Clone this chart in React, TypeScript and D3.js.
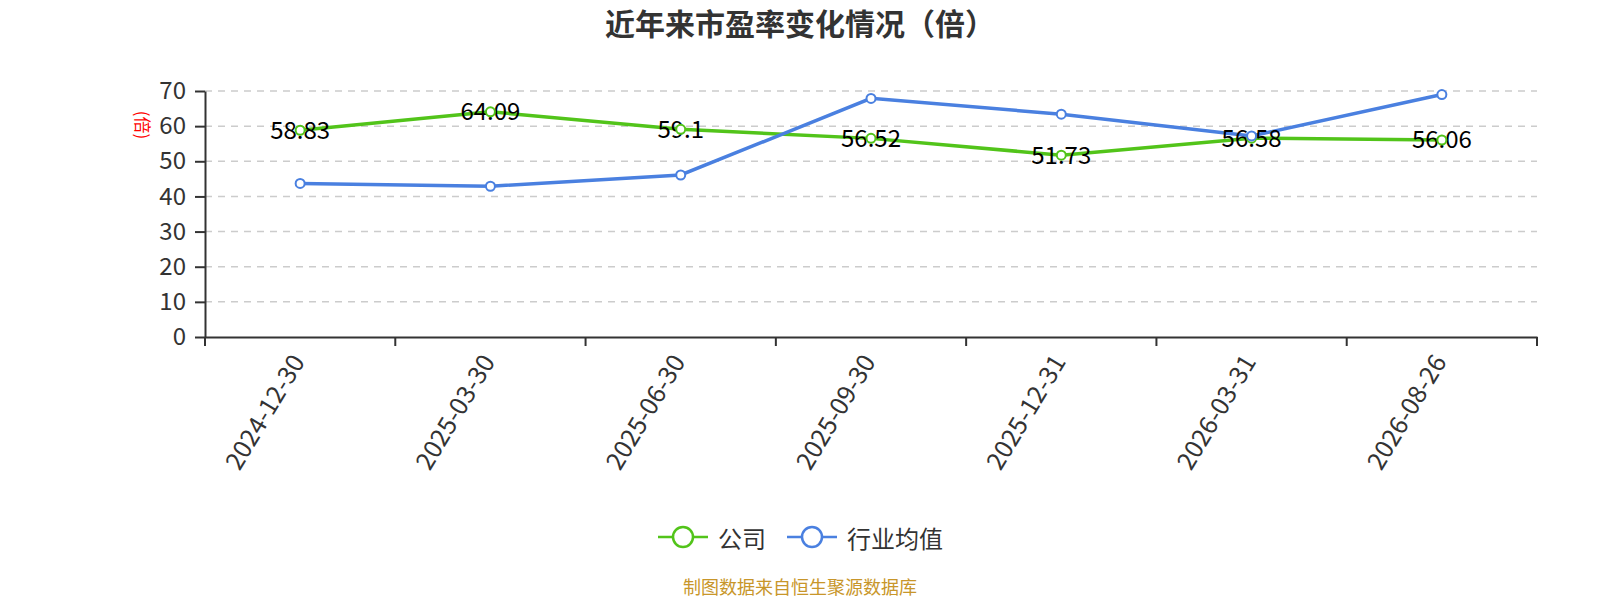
import { useEffect, useRef } from "react";
import * as d3 from "d3";

const dates = ["2024-12-30", "2025-03-30", "2025-06-30", "2025-09-30", "2025-12-31", "2026-03-31", "2026-08-26"];
const companyPE = [58.83, 64.09, 59.1, 56.52, 51.73, 56.58, 56.06];
const industryPE = [43.7, 42.9, 46.1, 67.9, 63.4, 57.2, 69.0];
const yTicks = [0, 10, 20, 30, 40, 50, 60, 70];

const GREEN = "#52c41a";
const BLUE = "#4a80e0";
const FONT = "'Noto Sans CJK SC', 'Noto Sans', sans-serif";

export default function App() {
  const svgRef = useRef<SVGSVGElement | null>(null);

  useEffect(() => {
    if (!svgRef.current) return;
    const svg = d3.select(svgRef.current);
    svg.selectAll("*").remove();

    const width = 1600;
    const height = 600;
    const left = 205, right = 1537, top = 91, bottom = 337;

    const x = d3.scaleBand<string>().domain(dates).range([left, right]);
    const y = d3.scaleLinear().domain([0, 70]).range([bottom, top]);
    const cx = (i: number) => (x(dates[i]) as number) + x.bandwidth() / 2;

    svg.attr("viewBox", `0 0 ${width} ${height}`).style("font-family", FONT);

    // title
    svg.append("text")
      .attr("x", 800).attr("y", 35)
      .attr("text-anchor", "middle")
      .attr("font-size", 30).attr("font-weight", "bold")
      .attr("fill", "#333")
      .text("近年来市盈率变化情况（倍）");

    // grid
    svg.append("g")
      .selectAll("line")
      .data(yTicks.filter((d) => d > 0))
      .join("line")
      .attr("x1", left).attr("x2", right)
      .attr("y1", (d) => y(d)).attr("y2", (d) => y(d))
      .attr("stroke", "#ccc").attr("stroke-width", 1.5)
      .attr("stroke-dasharray", "7,6");

    // y axis
    const gy = svg.append("g").attr("transform", `translate(${left},0)`)
      .call(d3.axisLeft(y).tickValues(yTicks).tickSize(10).tickPadding(9).tickSizeOuter(0));
    gy.select(".domain").attr("stroke", "#333").attr("stroke-width", 2);
    gy.selectAll(".tick line").attr("stroke", "#333").attr("stroke-width", 2);
    gy.selectAll("text").attr("fill", "#333").attr("font-size", 24).attr("font-family", FONT);

    // y axis name
    svg.append("text")
      .attr("transform", `translate(143,125) rotate(90)`)
      .attr("text-anchor", "middle").attr("dominant-baseline", "central")
      .attr("font-size", 17).attr("fill", "red")
      .text("(倍)");

    // x axis
    const gx = svg.append("g").attr("transform", `translate(0,${bottom})`)
      .call(d3.axisBottom(x).tickSize(0).tickPadding(0));
    gx.select(".domain").attr("stroke", "#333").attr("stroke-width", 2);
    gx.selectAll(".tick text")
      .attr("fill", "#333").attr("font-size", 25).attr("font-family", FONT)
      .attr("text-anchor", "end")
      .attr("dy", null).attr("y", 0)
      .attr("transform", "translate(-4,19) rotate(-59)")
      .attr("dominant-baseline", "central");
    const boundaries = dates.map((d) => x(d) as number).concat([right]);
    svg.append("g")
      .selectAll("line")
      .data(boundaries)
      .join("line")
      .attr("x1", (d) => d).attr("x2", (d) => d)
      .attr("y1", bottom).attr("y2", bottom + 9)
      .attr("stroke", "#333").attr("stroke-width", 2);

    const line = d3.line<number>()
      .x((_, i) => cx(i))
      .y((d) => y(d));

    const series = [
      { values: companyPE, color: GREEN },
      { values: industryPE, color: BLUE },
    ];

    series.forEach((s) => {
      svg.append("path")
        .datum(s.values)
        .attr("d", line)
        .attr("fill", "none")
        .attr("stroke", s.color)
        .attr("stroke-width", 3.5);
    });

    // labels for company
    svg.append("g")
      .selectAll("text")
      .data(companyPE)
      .join("text")
      .attr("x", (_, i) => cx(i))
      .attr("y", (d) => y(d) - 2)
      .attr("text-anchor", "middle")
      .attr("dominant-baseline", "central")
      .attr("font-size", 24)
      .attr("fill", "#000")
      .text((d) => String(d));

    series.forEach((s) => {
      svg.append("g")
        .selectAll("circle")
        .data(s.values)
        .join("circle")
        .attr("cx", (_, i) => cx(i))
        .attr("cy", (d) => y(d))
        .attr("r", 4.5)
        .attr("fill", "#fff")
        .attr("stroke", s.color)
        .attr("stroke-width", 2);
    });

    // legend
    const legend = [
      { name: "公司", color: GREEN, x: 658 },
      { name: "行业均值", color: BLUE, x: 787 },
    ];
    const ly = 537;
    legend.forEach((l) => {
      const g = svg.append("g");
      g.append("line")
        .attr("x1", l.x).attr("x2", l.x + 50)
        .attr("y1", ly).attr("y2", ly)
        .attr("stroke", l.color).attr("stroke-width", 2.5);
      g.append("circle")
        .attr("cx", l.x + 25).attr("cy", ly).attr("r", 10)
        .attr("fill", "#fff").attr("stroke", l.color).attr("stroke-width", 2.5);
      g.append("text")
        .attr("x", l.x + 60).attr("y", ly)
        .attr("dominant-baseline", "central")
        .attr("font-size", 24).attr("fill", "#333")
        .text(l.name);
    });

    // source
    svg.append("text")
      .attr("x", 800).attr("y", 586)
      .attr("text-anchor", "middle").attr("dominant-baseline", "central")
      .attr("font-size", 18).attr("fill", "#c8962a")
      .text("制图数据来自恒生聚源数据库");
  }, []);

  return (
    <>
      <style>{`body{margin:0}`}</style>
      <svg ref={svgRef} width={1600} height={600} style={{ display: "block" }} />
    </>
  );
}
